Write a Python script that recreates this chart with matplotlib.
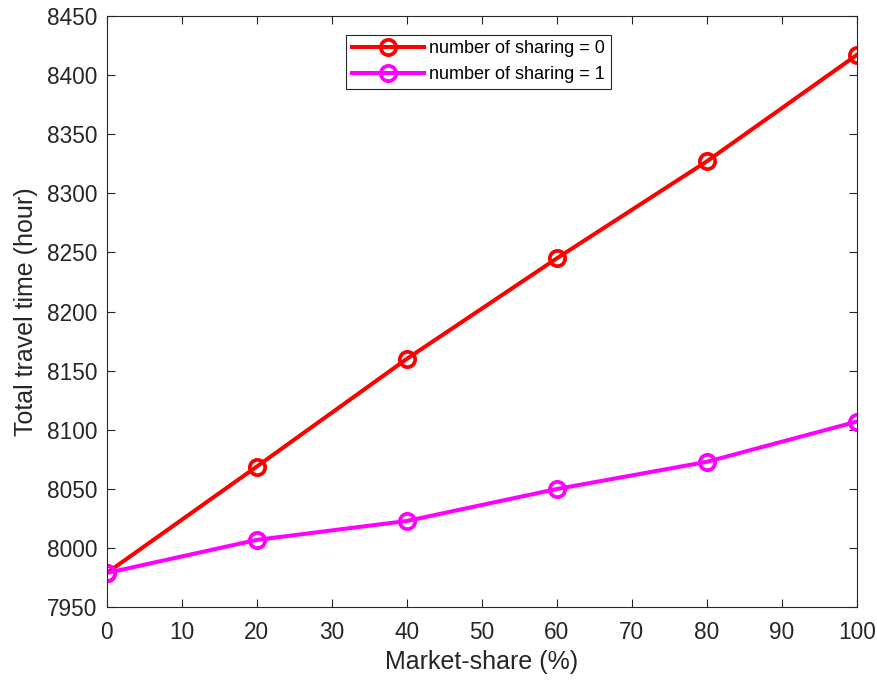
import matplotlib
matplotlib.use("Agg")
import matplotlib.pyplot as plt

# ---- data ----
market_share = [0, 20, 40, 60, 80, 100]                 # %
share0 = [7979, 8069, 8160, 8245, 8327, 8417]           # number of sharing = 0
share1 = [7979, 8007, 8023, 8050, 8073, 8107]           # number of sharing = 1
labels = ["number of sharing = 0", "number of sharing = 1"]

plt.rcParams["font.family"] = ["Liberation Sans", "DejaVu Sans"]

fig = plt.figure(figsize=(8.77, 6.84), dpi=100)
ax = fig.add_axes([0.1217, 0.1121, 0.8555, 0.8649])

ax.plot(market_share, share0, "o-", color="red", lw=2.9, ms=11,
        mfc="none", mew=2.7, label=labels[0])
ax.plot(market_share, share1, "o-", color="magenta", lw=2.9, ms=11,
        mfc="none", mew=2.7, label=labels[1])

ax.set_xlim(0, 100); ax.set_ylim(7950, 8450)
ax.set_xticks(range(0, 101, 10))
ax.set_yticks(range(7950, 8451, 50))
ax.tick_params(direction="in", top=True, right=True, labelsize=16.3,
               colors="#262626", length=6, width=0.8)
ax.tick_params(axis="x", pad=10)
ax.tick_params(axis="y", pad=7)
for sp in ax.spines.values():
    sp.set_color("#262626"); sp.set_linewidth(0.8)
ax.set_xlabel("Market-share (%)", fontsize=18, color="#262626", labelpad=4)
ax.set_ylabel("Total travel time (hour)", fontsize=18, color="#262626", labelpad=6)

leg = ax.legend(loc="upper left", bbox_to_anchor=(0.395, 0.949),
                bbox_transform=fig.transFigure, fontsize=13, handlelength=4,
                fancybox=False, framealpha=1, borderaxespad=0,
                borderpad=0.3, labelspacing=0.5, handletextpad=0.3)
leg.get_frame().set_edgecolor("#262626")
leg.get_frame().set_linewidth(0.8)

fig.savefig("out.png", dpi=100)
